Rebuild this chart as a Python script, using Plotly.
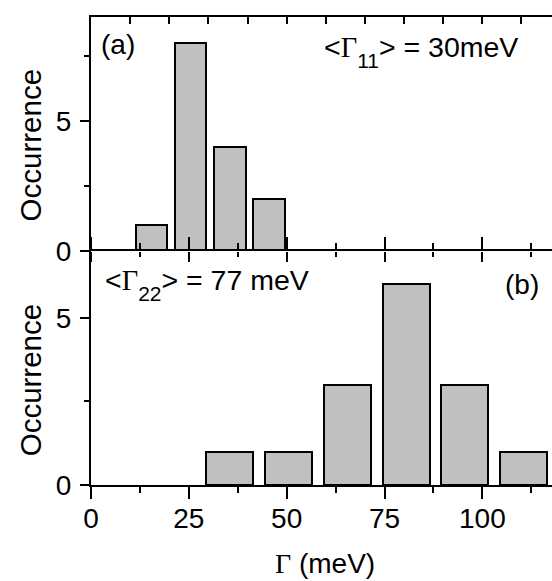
import plotly.graph_objects as go

# Data
g11_centers = [15.5, 25.5, 35.5, 45.5]
g11_counts = [1, 8, 4, 2]
g22_centers = [35.5, 50.5, 65.5, 80.5, 95.5, 110.5]
g22_counts = [1, 1, 3, 6, 3, 1]
x_tickvals = [0, 25, 50, 75, 100]
x_ticktext = ["0", "25", "50", "75", "100"]
y_tickvals = [0, 5]
y_ticktext = ["0", "5"]

SANS = "Liberation Sans, Arial, sans-serif"
SERIF = "Liberation Serif, Times New Roman, serif"
BAR_FILL = "#c0c0c0"
XR = [0, 117.8]

fig = go.Figure()
fig.add_trace(go.Bar(x=g11_centers, y=g11_counts, width=8, xaxis="x", yaxis="y",
                     marker=dict(color=BAR_FILL, line=dict(color="black", width=2))))
fig.add_trace(go.Bar(x=g22_centers, y=g22_counts, width=12, xaxis="x2", yaxis="y2",
                     marker=dict(color=BAR_FILL, line=dict(color="black", width=2))))
fig.add_trace(go.Scatter(x=[None], y=[None], xaxis="x3", yaxis="y", showlegend=False,
                         hoverinfo="skip"))

common_x = dict(range=XR, showgrid=False, zeroline=False,
                linecolor="black", linewidth=2, tickcolor="black")
common_y = dict(showgrid=False, zeroline=False, showline=True, linecolor="black",
                linewidth=2, tickcolor="black", ticks="outside", ticklen=9, tickwidth=2,
                tickvals=y_tickvals, ticktext=y_ticktext, ticklabelstandoff=3,
                tickfont=dict(size=28, family=SANS, color="black"),
                minor=dict(tickmode="linear", tick0=0, dtick=2.5, ticks="outside",
                           ticklen=5, tickwidth=1.5, tickcolor="black"))

fig.update_layout(
    width=552, height=581,
    margin=dict(l=91, r=0, t=17, b=96),
    paper_bgcolor="white", plot_bgcolor="white",
    showlegend=False, bargap=0,
    font=dict(family=SANS, color="black", size=28),
    xaxis=dict(**common_x, showline=False, domain=[0, 1], anchor="y", ticks="outside",
               ticklen=10, tickwidth=2, tickvals=x_tickvals, showticklabels=False,
               minor=dict(tickmode="linear", tick0=0, dtick=12.5, ticks="outside",
                          ticklen=5, tickwidth=1.5, tickcolor="black")),
    xaxis2=dict(**common_x, showline=True, domain=[0, 1], anchor="y2", ticks="outside",
                ticklen=12, tickwidth=2, mirror="ticks", tickvals=x_tickvals,
                ticktext=x_ticktext, ticklabelstandoff=-5,
                tickfont=dict(size=28, family=SANS, color="black"),
                minor=dict(tickmode="linear", tick0=0, dtick=12.5, ticks="outside",
                           ticklen=6, tickwidth=1.5, tickcolor="black")),
    xaxis3=dict(**common_x, showline=True, overlaying="x", anchor="y", side="top",
                ticks="inside", ticklen=7, tickwidth=1.5, tickmode="linear", tick0=0,
                dtick=10, showticklabels=False),
    yaxis=dict(**common_y, domain=[0.5, 1], anchor="x", range=[0, 9]),
    yaxis2=dict(**common_y, domain=[0, 0.5], anchor="x2", range=[0, 7]),
)

SUB = '<sub><span style="font-size:21px;baseline-shift:-5px">{}</span></sub>'
ann = []
ann.append(dict(text="Occurrence", xref="paper", yref="paper", x=-0.132, y=0.726,
                textangle=-90, showarrow=False, font=dict(size=29.5),
                xanchor="center", yanchor="middle"))
ann.append(dict(text="Occurrence", xref="paper", yref="paper", x=-0.132, y=0.224,
                textangle=-90, showarrow=False, font=dict(size=29.5),
                xanchor="center", yanchor="middle"))
ann.append(dict(text=f'<span style="font-family:{SERIF}">Γ</span> (meV)',
                xref="paper", yref="paper", x=0.5076, y=-0.167, showarrow=False,
                font=dict(size=28), xanchor="center", yanchor="middle"))
ann.append(dict(text="(a)", xref="paper", yref="paper", x=0.058, y=0.942,
                showarrow=False, font=dict(size=28), xanchor="center", yanchor="middle"))
ann.append(dict(text="(b)", xref="paper", yref="paper", x=0.976, y=0.429,
                showarrow=False, font=dict(size=28), xanchor="right", yanchor="middle"))
ann.append(dict(text=f'&lt;<span style="font-family:{SERIF}">Γ</span>' + SUB.format("11") + '&gt; = 30meV',
                xref="paper", yref="paper", x=0.931, y=0.927, showarrow=False,
                font=dict(size=28.5), xanchor="right", yanchor="middle"))
ann.append(dict(text=f'&lt;<span style="font-family:{SERIF}">Γ</span>' + SUB.format("22") + '&gt; = 77 meV',
                xref="paper", yref="paper", x=0.026, y=0.429, showarrow=False,
                font=dict(size=28.5), xanchor="left", yanchor="middle"))
fig.update_layout(annotations=ann)

fig.write_html("out.html", post_script="document.body.style.margin='0';",
               config={"displayModeBar": False})
